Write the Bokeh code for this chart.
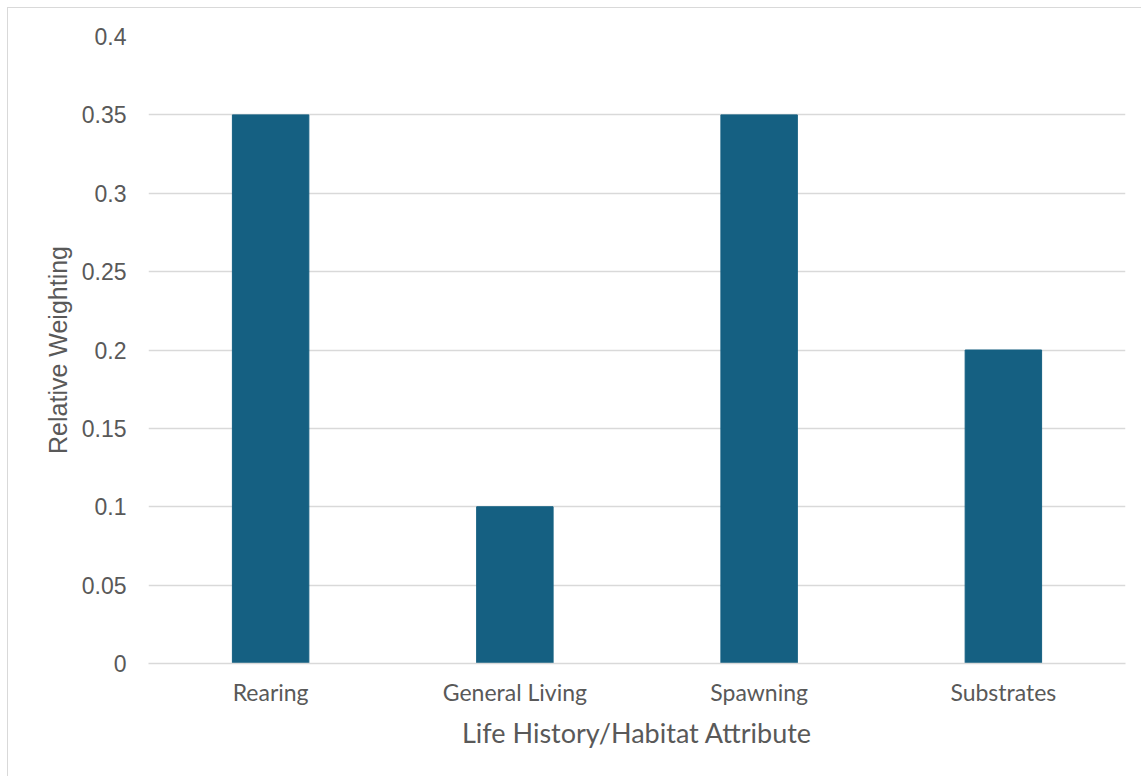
from bokeh.plotting import figure
from bokeh.models import FactorRange, Range1d, FixedTicker
from bokeh.embed import file_html
from bokeh.resources import INLINE

categories = ["Rearing", "General Living", "Spawning", "Substrates"]
weights = [0.35, 0.10, 0.35, 0.20]
y_ticks = [0, 0.05, 0.1, 0.15, 0.2, 0.25, 0.3, 0.35, 0.4]
y_tick_labels = ["0", "0.05", "0.1", "0.15", "0.2", "0.25", "0.3", "0.35", "0.4"]

TEXT = "#595959"
GRID = "#D9D9D9"
BAR = "#156082"

p = figure(
    x_range=FactorRange(factors=categories, range_padding=0),
    y_range=Range1d(0, 0.4),
    width=1134, height=769,
    output_backend="svg", toolbar_location=None,
    min_border_left=140, min_border_right=17,
    min_border_top=28, min_border_bottom=114,
)
p.styles = {"margin-left": "7px", "margin-top": "7px",
            "border-left": "1px solid #D9D9D9", "border-top": "1px solid #D9D9D9"}
p.outline_line_color = None
p.background_fill_color = "white"
p.border_fill_color = "white"

p.vbar(x=categories, top=weights, width=0.313, color=BAR, line_color=BAR)

p.xgrid.grid_line_color = None
p.ygrid.grid_line_color = GRID
p.ygrid.grid_line_width = 1.3
p.ygrid.ticker = FixedTicker(ticks=y_ticks)

ya = p.yaxis[0]
ya.ticker = FixedTicker(ticks=y_ticks)
ya.major_label_overrides = {t: l for t, l in zip(y_ticks, y_tick_labels)}
ya.axis_line_color = None
ya.major_tick_line_color = None
ya.minor_tick_line_color = None
ya.major_tick_in = 0
ya.major_tick_out = 0
ya.major_label_standoff = 22
ya.major_label_text_font = "Liberation Sans"
ya.major_label_text_font_size = "23px"
ya.major_label_text_color = TEXT
ya.axis_label = "Relative Weighting"
ya.axis_label_text_font = "Liberation Sans"
ya.axis_label_text_font_size = "25px"
ya.axis_label_text_font_style = "normal"
ya.axis_label_text_color = TEXT
ya.axis_label_standoff = 7

xa = p.xaxis[0]
xa.axis_line_color = GRID
xa.axis_line_width = 1.3
xa.major_tick_line_color = None
xa.minor_tick_line_color = None
xa.major_tick_in = 0
xa.major_tick_out = 0
xa.major_label_standoff = 14
xa.major_label_text_font = "Lato"
xa.major_label_text_font_size = "23px"
xa.major_label_text_color = TEXT
xa.axis_label = "Life History/Habitat Attribute"
xa.axis_label_text_font = "Lato"
xa.axis_label_text_font_size = "27px"
xa.axis_label_text_font_style = "normal"
xa.axis_label_text_color = TEXT
xa.axis_label_standoff = 7

open("out.html", "w").write(file_html(p, INLINE))
